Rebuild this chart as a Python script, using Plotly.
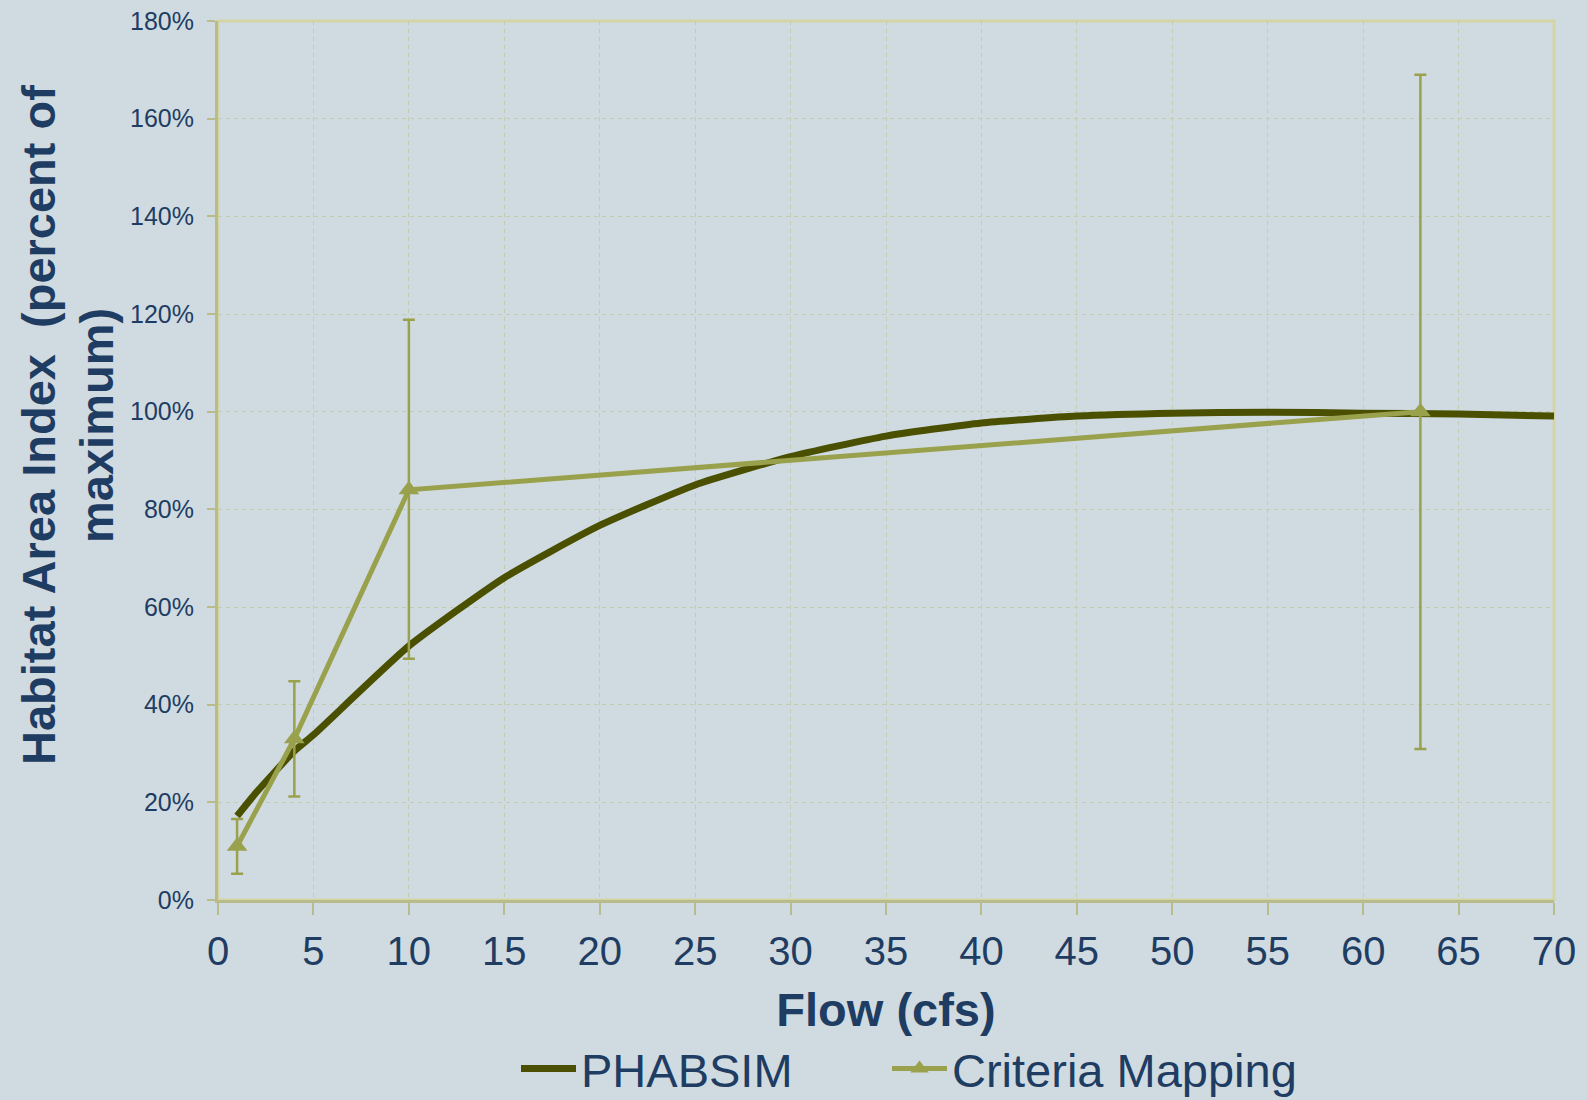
import plotly.graph_objects as go

# PHABSIM habitat curve (percent of maximum habitat area vs flow)
phabsim_flow = [1, 2, 4, 5, 10, 15, 20, 25, 30, 35, 40, 45, 50, 55, 60, 65, 70]
phabsim_pct = [17.2, 22.0, 30.5, 33.8, 52.0, 66.0, 76.7, 85.0, 90.8, 95.0, 97.7, 99.1, 99.7, 99.9, 99.7, 99.5, 99.1]

# Criteria mapping estimates with asymmetric uncertainty
cm_flow = [1, 4, 10, 63]
cm_pct = [11.0, 33.0, 84.0, 100.0]
cm_upper = [16.6, 44.8, 118.8, 169.0]
cm_lower = [5.4, 21.2, 49.4, 30.9]

x_ticks = list(range(0, 71, 5))
y_ticks = list(range(0, 181, 20))

TEXT = "#1F3D62"
BG = "#D0DBE1"
AXIS = "#B9BB8A"
FRAME = "#D4D5A5"
GRID = "#C2CCAF"
DARK_OLIVE = "#4A5000"
LIGHT_OLIVE = "#9AA14C"
FONT = "Liberation Sans, Arial"

err_plus = [u - v for u, v in zip(cm_upper, cm_pct)]
err_minus = [v - l for v, l in zip(cm_pct, cm_lower)]

fig = go.Figure()

fig.add_trace(go.Scatter(
    x=phabsim_flow, y=phabsim_pct, name="PHABSIM", mode="lines",
    line=dict(color=DARK_OLIVE, width=7, shape="spline", smoothing=0.5),
    legend="legend",
))

fig.add_trace(go.Scatter(
    x=cm_flow, y=cm_pct, name="Criteria Mapping", mode="lines+markers",
    line=dict(color=LIGHT_OLIVE, width=5),
    marker=dict(symbol="triangle-up", size=18, color=LIGHT_OLIVE),
    error_y=dict(type="data", symmetric=False, array=err_plus, arrayminus=err_minus,
                 color=LIGHT_OLIVE, thickness=2.5, width=6),
    legend="legend2",
))

# light frame around the plotting area
fig.add_shape(type="rect", xref="paper", yref="paper", x0=0, x1=1, y0=0, y1=1,
              line=dict(color=FRAME, width=3), layer="below")

fig.update_xaxes(
    range=[0, 70], tickvals=x_ticks, ticktext=[str(v) for v in x_ticks],
    showgrid=True, gridcolor=GRID, griddash="4px,4px", gridwidth=1,
    showline=True, linecolor=AXIS, linewidth=3,
    ticks="outside", ticklen=12, tickwidth=2, tickcolor=AXIS,
    tickfont=dict(family=FONT, size=40, color=TEXT),
    ticklabelstandoff=2,
    zeroline=False,
    title=dict(text="<b>Flow (cfs)</b>", font=dict(family=FONT, size=47, color=TEXT),
               standoff=22),
)
fig.update_yaxes(
    range=[0, 180], tickvals=y_ticks, ticktext=[f"{v}%" for v in y_ticks],
    showgrid=True, gridcolor=GRID, griddash="4px,4px", gridwidth=1,
    showline=True, linecolor=AXIS, linewidth=3,
    ticks="outside", ticklen=8, tickwidth=2, tickcolor=AXIS,
    tickfont=dict(family=FONT, size=25, color=TEXT),
    ticklabelstandoff=8,
    zeroline=False,
)

# two-line vertical axis title
fig.add_annotation(
    text="<b>Habitat Area Index  (percent of</b>", xref="paper", yref="paper",
    x=-218 / 1336 + 38 / 1336, y=(900 - 425) / 879, textangle=-90,
    showarrow=False, xanchor="center", yanchor="middle",
    font=dict(family=FONT, size=47, color=TEXT),
)
fig.add_annotation(
    text="<b>maximum)</b>", xref="paper", yref="paper",
    x=-218 / 1336 + 96 / 1336, y=(900 - 425) / 879, textangle=-90,
    showarrow=False, xanchor="center", yanchor="middle",
    font=dict(family=FONT, size=47, color=TEXT),
)

legend_common = dict(
    orientation="h", yanchor="middle", y=-(1069 - 900) / 879,
    font=dict(family=FONT, size=47, color=TEXT),
    bgcolor="rgba(0,0,0,0)", itemwidth=55, xanchor="left",
)

fig.update_layout(
    width=1587, height=1100,
    margin=dict(l=218, r=33, t=21, b=200, autoexpand=False),
    paper_bgcolor=BG, plot_bgcolor=BG,
    showlegend=True,
    legend=dict(x=(516 - 218) / 1336, **legend_common),
    legend2=dict(x=(887 - 218) / 1336, **legend_common),
)

fig.write_html("out.html")
